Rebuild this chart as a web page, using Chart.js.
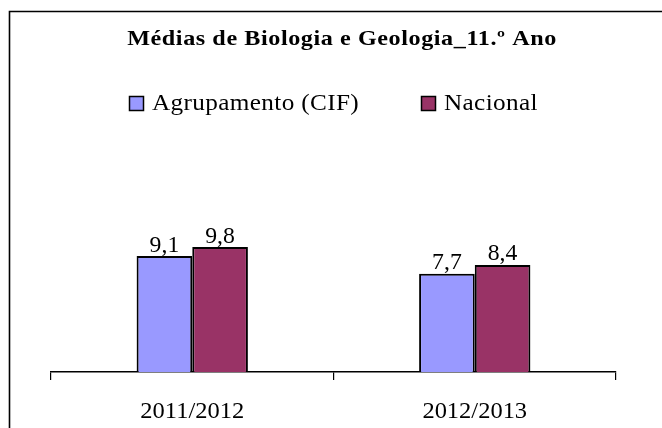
<!DOCTYPE html>
<html>
<head>
<meta charset="utf-8">
<script src="https://cdn.jsdelivr.net/npm/chart.js@4.4.1/dist/chart.umd.min.js"></script>
<style>
  html, body { margin: 0; padding: 0; background: #ffffff; }
  #wrap { width: 662px; height: 428px; position: relative; }
</style>
</head>
<body>
<div id="wrap"><canvas id="c" width="662" height="428"></canvas></div>
<script>
const chartTitle = 'Médias de Biologia e Geologia_11.º Ano';
const categories = ['2011/2012', '2012/2013'];
const seriesNames = ['Agrupamento (CIF)', 'Nacional'];
const agrupamento = [9.1, 7.7];
const nacional = [9.8, 8.4];
const seriesColors = ['#9999FF', '#993366'];

const FONT = '"Liberation Serif", "Times New Roman", serif';

function drawText(ctx, text, x, y, font, sx, spacing, align, baseline) {
  ctx.save();
  ctx.font = font;
  ctx.letterSpacing = spacing + 'px';
  ctx.textAlign = align;
  ctx.textBaseline = baseline;
  ctx.translate(x, y);
  ctx.scale(sx, 1);
  ctx.fillText(text, 0, 0);
  ctx.restore();
}

const decorPlugin = {
  id: 'decor',
  beforeDraw(chart) {
    const ctx = chart.ctx;
    ctx.save();
    ctx.fillStyle = '#ffffff';
    ctx.fillRect(0, 0, chart.width, chart.height);
    // outer frame (extends beyond the visible area on right/bottom)
    ctx.strokeStyle = '#000000';
    ctx.lineWidth = 1.6;
    ctx.beginPath();
    ctx.moveTo(9.5, chart.height + 5);
    ctx.lineTo(9.5, 11.5);
    ctx.lineTo(chart.width + 5, 11.5);
    ctx.stroke();
    ctx.fillStyle = '#000000';
    // title
    drawText(ctx, chartTitle, 342, 40, 'bold 21px ' + FONT, 1.15, 0.5, 'center', 'middle');
    // legend
    const itemX = [129, 421];
    chart.data.datasets.forEach((ds, i) => {
      const x = itemX[i];
      ctx.fillStyle = ds.backgroundColor;
      ctx.fillRect(x, 96, 14, 14);
      ctx.lineWidth = 1.5;
      ctx.strokeStyle = '#000000';
      ctx.strokeRect(x + 0.5, 96.5, 14, 14);
      ctx.fillStyle = '#000000';
      drawText(ctx, ds.label, x + 23, 104, '24px ' + FONT, 1.05, 0.35, 'left', 'middle');
    });
    ctx.restore();
  },
  afterDraw(chart) {
    const ctx = chart.ctx;
    ctx.save();
    ctx.fillStyle = '#000000';
    // data labels
    chart.data.datasets.forEach((ds, i) => {
      const meta = chart.getDatasetMeta(i);
      meta.data.forEach((el, j) => {
        drawText(ctx, String(ds.data[j]).replace('.', ','), el.x, el.y + 1, '23px ' + FONT, 1.03, 0, 'center', 'bottom');
      });
    });
    // category labels
    const xs = chart.scales.x;
    chart.data.labels.forEach((lab, i) => {
      drawText(ctx, lab, xs.getPixelForTick(i), 412, '24px ' + FONT, 1.02, 0, 'center', 'middle');
    });
    ctx.restore();
  }
};

new Chart(document.getElementById('c'), {
  type: 'bar',
  data: {
    labels: categories,
    datasets: [
      { label: seriesNames[0], data: agrupamento, backgroundColor: seriesColors[0], borderColor: '#000000', borderWidth: 2 },
      { label: seriesNames[1], data: nacional, backgroundColor: seriesColors[1], borderColor: '#000000', borderWidth: 2 }
    ]
  },
  options: {
    responsive: false,
    animation: false,
    devicePixelRatio: 1,
    layout: { padding: { top: 219, left: 51, right: 46, bottom: 48 } },
    categoryPercentage: 0.394,
    barPercentage: 1.0,
    plugins: {
      legend: { display: false },
      title: { display: false },
      tooltip: { enabled: false }
    },
    scales: {
      x: {
        offset: true,
        grid: { display: true, drawOnChartArea: false, drawTicks: true, tickLength: 8, color: '#000000', lineWidth: 1.2, offset: true },
        border: { display: true, color: '#000000', width: 1.5 },
        ticks: { display: false }
      },
      y: {
        display: false,
        min: 0,
        max: 12
      }
    }
  },
  plugins: [decorPlugin]
});
</script>
</body>
</html>
